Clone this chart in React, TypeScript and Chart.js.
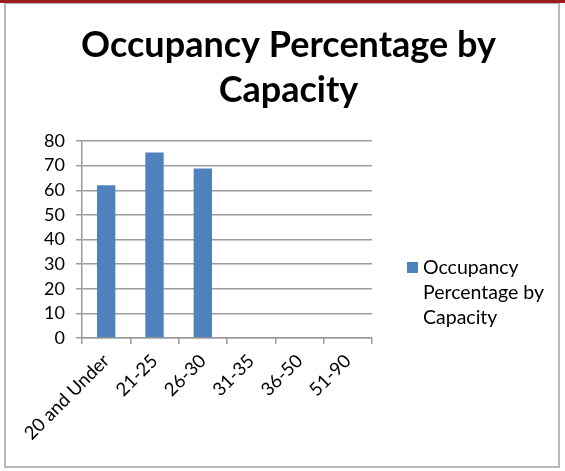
import React, { useEffect, useRef } from "react";
import { Chart, registerables } from "chart.js";
Chart.register(...registerables);

const categories: string[] = ["20 and Under", "21-25", "26-30", "31-35", "36-50", "51-90"];
const occupancy: (number | null)[] = [62, 75.3, 68.8, null, null, null];
const seriesLabel = "Occupancy Percentage by Capacity";
const titleLines: string[] = ["Occupancy Percentage by", "Capacity"];
const yMin = 0;
const yMax = 80;
const yStep = 10;

const FONT = "Lato";
const BAR_COLOR = "#4f81bd";
const GRID_COLOR = "#9c9c9c";

const framePlugin = {
  id: "frame",
  beforeDraw(chart: any) {
    const ctx = chart.ctx;
    const w = chart.width;
    const h = chart.height;
    ctx.save();
    ctx.fillStyle = "#ffffff";
    ctx.fillRect(0, 0, w, h);
    ctx.strokeStyle = "#b8b8b8";
    ctx.lineWidth = 2;
    ctx.strokeRect(5, 3, w - 6 - 5, h - 4 - 3);
    ctx.fillStyle = "#9c1a20";
    ctx.fillRect(0, 0, w, 3);
    ctx.restore();
  },
};

const legendPlugin = {
  id: "wrapLegend",
  afterDraw(chart: any) {
    const ctx = chart.ctx;
    const ds = chart.data.datasets[0];
    const area = chart.chartArea;
    ctx.save();
    ctx.font = `19.5px ${FONT}`;
    const words = String(ds.label).split(" ");
    const maxW = 140;
    const lines: string[] = [];
    let cur = "";
    for (const wd of words) {
      const test = cur ? cur + " " + wd : wd;
      if (cur && ctx.measureText(test).width > maxW) {
        lines.push(cur);
        cur = wd;
      } else cur = test;
    }
    if (cur) lines.push(cur);
    const x = area.right + 35;
    const y = area.top + 127;
    ctx.fillStyle = ds.backgroundColor;
    ctx.fillRect(x, y - 6, 11, 11);
    ctx.fillStyle = "#000";
    ctx.textBaseline = "middle";
    ctx.textAlign = "left";
    lines.forEach((l, i) => ctx.fillText(l, x + 16, y + i * 25));
    ctx.restore();
  },
};

export default function App() {
  const ref = useRef<HTMLCanvasElement>(null);
  useEffect(() => {
    if (!ref.current) return;
    const chart = new Chart(ref.current, {
      type: "bar",
      data: {
        labels: categories,
        datasets: [
          {
            label: seriesLabel,
            data: occupancy,
            backgroundColor: BAR_COLOR,
            categoryPercentage: 1,
            barPercentage: 0.38,
          },
        ],
      },
      options: {
        animation: false,
        responsive: false,
        devicePixelRatio: 1,
        layout: { padding: { left: 12, right: 0, top: 0, bottom: 0 } },
        plugins: {
          legend: { display: false },
          tooltip: { enabled: false },
          title: {
            display: true,
            text: titleLines,
            color: "#000",
            font: { family: FONT, size: 36, weight: "bold", lineHeight: 1.25 },
            padding: { top: 23, bottom: 28 },
          },
        },
        scales: {
          x: {
            offset: true,
            grid: { display: true, drawOnChartArea: false, offset: true, color: GRID_COLOR, lineWidth: 1.5, tickLength: 6 },
            border: { display: true, color: GRID_COLOR, width: 1.5 },
            ticks: {
              color: "#000",
              font: { family: FONT, size: 18.5 },
              minRotation: 45,
              maxRotation: 45,
              autoSkip: false,
              padding: 6,
            },
            afterFit(scale: any) {
              scale.height = 133;
            },
          },
          y: {
            min: yMin,
            max: yMax,
            ticks: { stepSize: yStep, color: "#000", font: { family: FONT, size: 18 }, padding: 11 },
            grid: { color: GRID_COLOR, lineWidth: 1.5, tickLength: 6 },
            border: { display: true, color: GRID_COLOR, width: 1.5 },
            afterFit(scale: any) {
              scale.width = 70;
            },
          },
          spacer: {
            type: "linear",
            position: "right",
            display: true,
            grid: { display: false },
            border: { display: false },
            ticks: { display: false },
            afterFit(scale: any) {
              scale.width = 193;
            },
          },
        },
      },
      plugins: [framePlugin, legendPlugin],
    } as any);
    return () => chart.destroy();
  }, []);
  return (
    <div style={{ position: "absolute", left: 0, top: 0, width: 565, height: 471 }}>
      <canvas ref={ref} width={565} height={471} style={{ display: "block", width: 565, height: 471 }} />
    </div>
  );
}
